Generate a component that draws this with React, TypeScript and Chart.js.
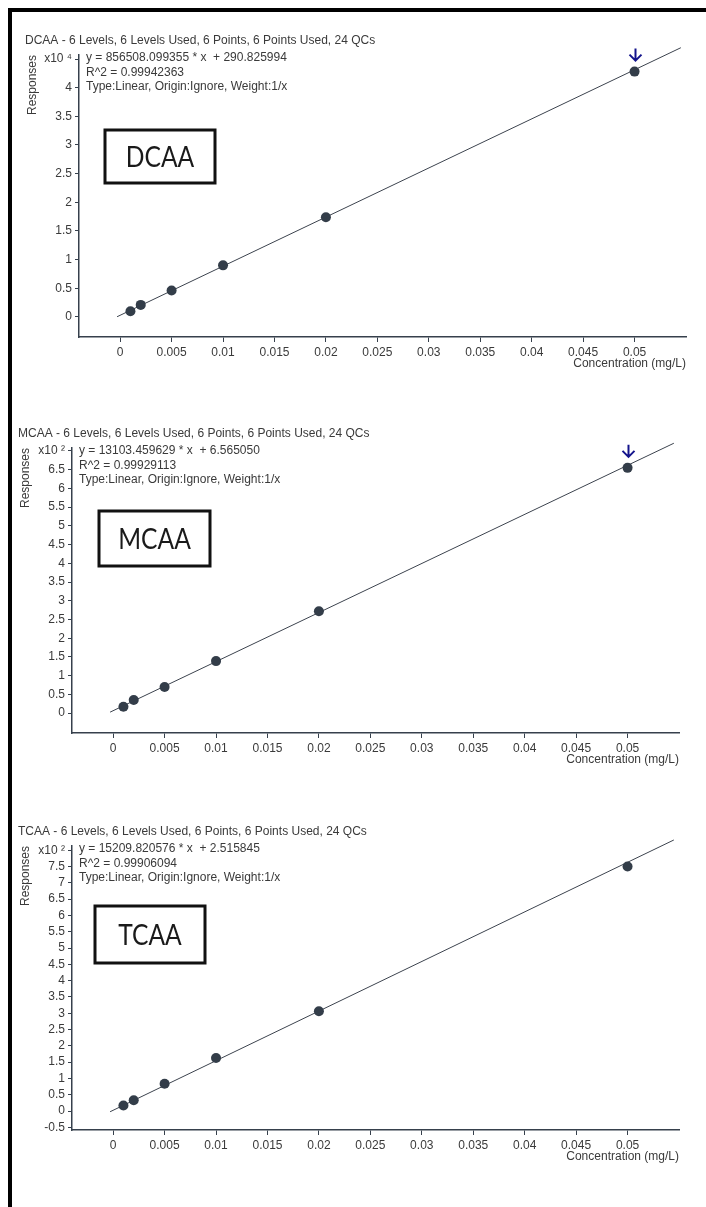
import React, { useEffect, useRef } from "react";
import { Chart, registerables } from "chart.js";

Chart.register(...registerables);

// ---------- data ----------
const concentrations = [0.001, 0.002, 0.005, 0.01, 0.02, 0.05];
const xTickValues = [0, 0.005, 0.01, 0.015, 0.02, 0.025, 0.03, 0.035, 0.04, 0.045, 0.05];
const fitRange = [-0.0003, 0.0545];

// responses in displayed units (x10^4 for DCAA, x10^2 for MCAA/TCAA)
const dcaaResponses = [0.1, 0.21, 0.46, 0.9, 1.74, 4.28];
const mcaaResponses = [0.17, 0.35, 0.7, 1.39, 2.72, 6.55];
const tcaaResponses = [0.17, 0.33, 0.84, 1.63, 3.06, 7.5];

const dcaaYTicks = [0, 0.5, 1, 1.5, 2, 2.5, 3, 3.5, 4, 4.5];
const mcaaYTicks = [0, 0.5, 1, 1.5, 2, 2.5, 3, 3.5, 4, 4.5, 5, 5.5, 6, 6.5, 7];
const tcaaYTicks = [-0.5, 0, 0.5, 1, 1.5, 2, 2.5, 3, 3.5, 4, 4.5, 5, 5.5, 6, 6.5, 7, 7.5, 8];

// slope, intercept (raw responses)
const dcaaFit = [856508.099355, 290.825994];
const mcaaFit = [13103.459629, 6.56505];
const tcaaFit = [15209.820576, 2.515845];

const dcaaExponent = 4;
const mcaaExponent = 2;
const tcaaExponent = 2;

const dcaaTitle = "DCAA - 6 Levels, 6 Levels Used, 6 Points, 6 Points Used, 24 QCs";
const mcaaTitle = "MCAA - 6 Levels, 6 Levels Used, 6 Points, 6 Points Used, 24 QCs";
const tcaaTitle = "TCAA - 6 Levels, 6 Levels Used, 6 Points, 6 Points Used, 24 QCs";

const dcaaEquation = ["y = 856508.099355 * x  + 290.825994", "R^2 = 0.99942363", "Type:Linear, Origin:Ignore, Weight:1/x"];
const mcaaEquation = ["y = 13103.459629 * x  + 6.565050", "R^2 = 0.99929113", "Type:Linear, Origin:Ignore, Weight:1/x"];
const tcaaEquation = ["y = 15209.820576 * x  + 2.515845", "R^2 = 0.99906094", "Type:Linear, Origin:Ignore, Weight:1/x"];

const superscripts: Record<string, string> = { "2": "\u00B2", "4": "\u2074" };

const FONT = '"Liberation Sans", Arial, sans-serif';
const TEXT = "#3a3a3a";
const AXIS = "#36404c";
const POINT = "#333d49";

type PanelCfg = {
  name: string;
  title: string;
  equation: string[];
  responses: number[];
  yTicks: number[];
  fit: number[];
  exponent: number;
  canvasTop: number;
  height: number;
  area: { left: number; top: number; right: number; bottom: number };
  yRange: number[];
  box: { dx: number; dy: number; w: number; h: number };
  arrow: boolean;
};

const panels: PanelCfg[] = [
  {
    name: "DCAA", title: dcaaTitle, equation: dcaaEquation, responses: dcaaResponses,
    yTicks: dcaaYTicks, fit: dcaaFit, exponent: dcaaExponent,
    canvasTop: 0, height: 380,
    area: { left: 79, top: 55, right: 686, bottom: 337 },
    yRange: [-0.35, 4.57],
    box: { dx: 26, dy: 75, w: 110, h: 53 },
    arrow: true,
  },
  {
    name: "MCAA", title: mcaaTitle, equation: mcaaEquation, responses: mcaaResponses,
    yTicks: mcaaYTicks, fit: mcaaFit, exponent: mcaaExponent,
    canvasTop: 400, height: 390,
    area: { left: 72, top: 448, right: 679, bottom: 733 },
    yRange: [-0.53, 7.08],
    box: { dx: 27, dy: 63, w: 111, h: 55 },
    arrow: true,
  },
  {
    name: "TCAA", title: tcaaTitle, equation: tcaaEquation, responses: tcaaResponses,
    yTicks: tcaaYTicks, fit: tcaaFit, exponent: tcaaExponent,
    canvasTop: 800, height: 400,
    area: { left: 72, top: 846, right: 679, bottom: 1130 },
    yRange: [-0.58, 8.13],
    box: { dx: 23, dy: 60, w: 110, h: 57 },
    arrow: false,
  },
];

const Y_SCALE_W = 54;
const X_SCALE_H = 34;

function Panel({ cfg }: { cfg: PanelCfg }) {
  const ref = useRef<HTMLCanvasElement | null>(null);
  useEffect(() => {
    if (!ref.current) return;
    const factor = Math.pow(10, cfg.exponent);
    const fitLine = fitRange.map((x) => ({ x, y: (cfg.fit[0] * x + cfg.fit[1]) / factor }));
    const pts = concentrations.map((x, i) => ({ x, y: cfg.responses[i] }));
    const topTick = cfg.yTicks[cfg.yTicks.length - 1];
    const a = cfg.area;

    const annot = {
      id: "annot",
      afterDraw(chart: any) {
        const ctx = chart.ctx;
        const ca = chart.chartArea;
        ctx.save();
        ctx.fillStyle = TEXT;
        ctx.textBaseline = "middle";
        ctx.textAlign = "left";
        ctx.font = `12px ${FONT}`;
        ctx.fillText(cfg.title, ca.left - Y_SCALE_W, ca.top - 14);
        cfg.equation.forEach((line, i) => {
          ctx.fillText(line, ca.left + 7, ca.top + 3 + i * 14.5);
        });
        // label box
        const bx = ca.left + cfg.box.dx;
        const by = ca.top + cfg.box.dy;
        ctx.strokeStyle = "#111";
        ctx.lineWidth = 3;
        ctx.strokeRect(bx, by, cfg.box.w, cfg.box.h);
        ctx.fillStyle = "#1a1a1a";
        ctx.font = `28px Lato, "Open Sans", sans-serif`;
        ctx.textAlign = "center";
        ctx.save();
        ctx.translate(bx + cfg.box.w / 2, by + cfg.box.h / 2 + 1);
        ctx.scale(0.88, 1);
        ctx.fillText(cfg.name, 0, 0);
        ctx.restore();
        // arrow
        if (cfg.arrow) {
          const xs = chart.scales.x;
          const ys = chart.scales.y;
          const last = concentrations.length - 1;
          const px = Math.round(xs.getPixelForValue(concentrations[last])) + 0.5;
          const py = ys.getPixelForValue(cfg.responses[last]);
          ctx.strokeStyle = "#14148c";
          ctx.lineWidth = 2;
          ctx.beginPath();
          ctx.moveTo(px, py - 23);
          ctx.lineTo(px, py - 11);
          ctx.moveTo(px - 6, py - 17);
          ctx.lineTo(px, py - 11);
          ctx.lineTo(px + 6, py - 17);
          ctx.stroke();
        }
        ctx.restore();
      },
    };

    const chart = new Chart(ref.current, {
      type: "scatter",
      data: {
        datasets: [
          {
            data: pts,
            showLine: false,
            pointRadius: 5,
            pointHoverRadius: 5,
            backgroundColor: POINT,
            borderColor: POINT,
            borderWidth: 0,
          },
          {
            data: fitLine,
            showLine: true,
            pointRadius: 0,
            borderColor: "#3c434e",
            borderWidth: 1,
            clip: false as any,
          } as any,
        ],
      },
      options: {
        animation: false,
        responsive: false,
        maintainAspectRatio: false,
        devicePixelRatio: 1,
        events: [],
        layout: {
          padding: {
            left: a.left - Y_SCALE_W,
            top: a.top - cfg.canvasTop,
            right: 706 - a.right,
            bottom: cfg.canvasTop + cfg.height - a.bottom - X_SCALE_H,
          },
        },
        plugins: { legend: { display: false }, tooltip: { enabled: false }, title: { display: false } },
        scales: {
          x: {
            type: "linear",
            min: -0.004,
            max: 0.055,
            afterBuildTicks: (s: any) => {
              s.ticks = xTickValues.map((value) => ({ value }));
            },
            afterFit: (s: any) => {
              s.height = X_SCALE_H;
            },
            ticks: {
              autoSkip: false,
              maxRotation: 0,
              padding: 3,
              color: TEXT,
              font: { family: FONT, size: 12 },
              callback: (v: any) => String(v),
            },
            grid: { drawOnChartArea: false, drawTicks: true, tickLength: 5, tickColor: AXIS, tickWidth: 1 },
            border: { display: true, color: AXIS, width: 1.5 },
            title: {
              display: true,
              text: "Concentration (mg/L)",
              align: "end",
              color: TEXT,
              font: { family: FONT, size: 12 },
              padding: 0,
            },
          },
          y: {
            type: "linear",
            min: cfg.yRange[0],
            max: cfg.yRange[1],
            afterBuildTicks: (s: any) => {
              s.ticks = cfg.yTicks.map((value) => ({ value }));
            },
            afterFit: (s: any) => {
              s.width = Y_SCALE_W;
            },
            ticks: {
              autoSkip: false,
              padding: 3,
              color: TEXT,
              font: { family: FONT, size: 12 },
              callback: (v: any) =>
                v === topTick ? `x10 ${superscripts[String(cfg.exponent)]}` : String(v),
            },
            grid: { drawOnChartArea: false, drawTicks: true, tickLength: 4, tickColor: AXIS, tickWidth: 1 },
            border: { display: true, color: AXIS, width: 1.5 },
            title: {
              display: true,
              text: "Responses",
              align: "end",
              color: TEXT,
              font: { family: FONT, size: 12 },
              padding: 0,
            },
          },
        },
      } as any,
      plugins: [annot],
    });
    return () => chart.destroy();
  }, [cfg]);

  return (
    <canvas
      ref={ref}
      width={706}
      height={cfg.height}
      style={{ position: "absolute", left: 0, top: cfg.canvasTop, width: 706, height: cfg.height }}
    />
  );
}

export default function App() {
  return (
    <div
      style={{
        position: "fixed",
        left: 0,
        top: 0,
        width: 706,
        height: 1207,
        overflow: "hidden",
        background: "#fff",
      }}
    >
      <div
        style={{
          position: "absolute",
          left: 8,
          top: 8,
          width: 760,
          height: 1260,
          borderTop: "4px solid #000",
          borderLeft: "4px solid #000",
        }}
      />
      {panels.map((p) => (
        <Panel key={p.name} cfg={p} />
      ))}
    </div>
  );
}
